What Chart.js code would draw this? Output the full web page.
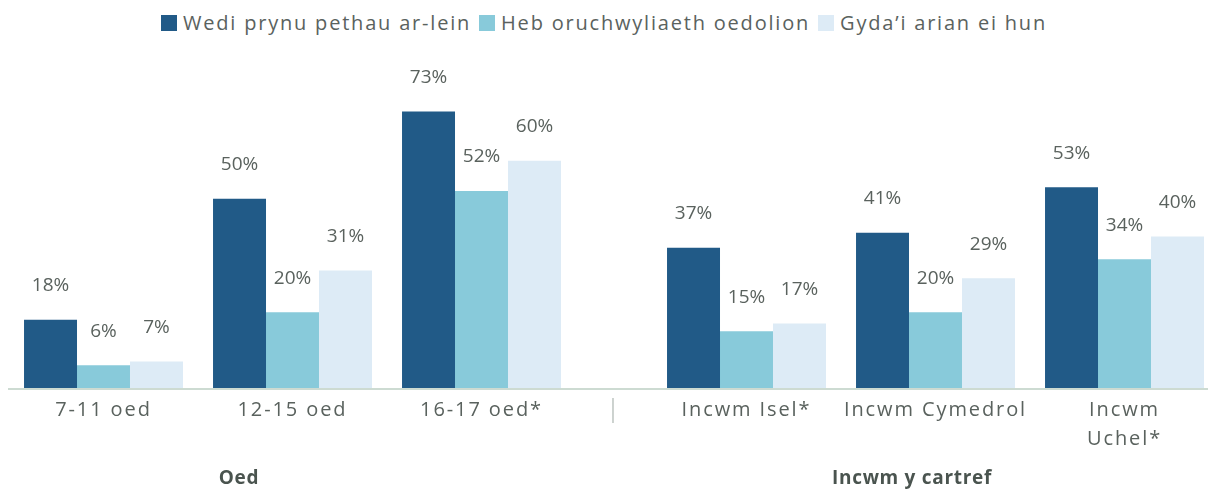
<!DOCTYPE html>
<html>
<head>
<meta charset="utf-8">
<script src="https://cdn.jsdelivr.net/npm/chart.js@4"></script>
<style>
  html, body { margin: 0; padding: 0; background: #fff; }
  body { width: 1208px; height: 495px; overflow: hidden; position: relative; font-family: "Open Sans", sans-serif; }
  #legend { position: absolute; top: 9px; left: 0; width: 1208px; display: flex; justify-content: center; gap: 8px; font-size: 20px; letter-spacing: 1.8px; color: #5a625e; }
  #legend span.item { display: flex; align-items: center; }
  #legend span.box { width: 16px; height: 16px; margin-right: 6px; display: inline-block; }
  .group { position: absolute; top: 464px; font-weight: bold; font-size: 19px; letter-spacing: 0.7px; color: #4a544f; transform: translateX(-50%); white-space: nowrap; }
  #left { position: absolute; left: 0; top: 0; }
  #right { position: absolute; left: 652px; top: 0; }
</style>
</head>
<body>
<div id="legend"></div>
<canvas id="left" width="652" height="495"></canvas>
<canvas id="right" width="567" height="495"></canvas>
<div class="group" style="left:239px">Oed</div>
<div class="group" style="left:912px">Incwm y cartref</div>
<script>
// categories (first three: Oed, last three: Incwm y cartref)
const categories = ['7-11 oed', '12-15 oed', '16-17 oed*', 'Incwm Isel*', 'Incwm Cymedrol', ['Incwm', 'Uchel*']];
const groupTitles = ['Oed', 'Incwm y cartref'];
const separator = '|';

// series values (%)
const seriesNames = ['Wedi prynu pethau ar-lein', 'Heb oruchwyliaeth oedolion', 'Gyda\u2019i arian ei hun'];
const boughtOnline = [18, 50, 73, 37, 41, 53];
const noSupervision = [6, 20, 52, 15, 20, 34];
const ownMoney = [7, 31, 60, 17, 29, 40];

const colors = ['#215a87', '#88cada', '#ddebf6'];
const textColor = '#5a625e';
const axisColor = '#cddbd2';
const fontFamily = '"Open Sans", sans-serif';

// legend (html)
const legendEl = document.getElementById('legend');
seriesNames.forEach((name, i) => {
    const item = document.createElement('span');
    item.className = 'item';
    item.innerHTML = '<span class="box" style="background:' + colors[i] + '"></span>' + name;
    legendEl.appendChild(item);
});

// wider tracking for the axis labels
const tracking = {
    id: 'tracking',
    beforeDraw(chart) {
        chart.ctx.letterSpacing = '1.9px';
    }
};

// data labels above bars
const valueLabels = {
    id: 'valueLabels',
    afterDatasetsDraw(chart) {
        const ctx = chart.ctx;
        ctx.save();
        ctx.letterSpacing = '0px';
        ctx.font = '19px ' + fontFamily;
        ctx.fillStyle = textColor;
        ctx.textAlign = 'center';
        ctx.textBaseline = 'middle';
        chart.data.datasets.forEach((ds, i) => {
            chart.getDatasetMeta(i).data.forEach((bar, j) => {
                ctx.fillText(ds.data[j] + '%', bar.x, bar.y - 34);
            });
        });
        ctx.restore();
    }
};

// baseline running across both halves
const baseline = {
    id: 'baseline',
    afterDraw(chart, args, opts) {
        const ctx = chart.ctx;
        const a = chart.chartArea;
        ctx.save();
        ctx.letterSpacing = '0px';
        ctx.strokeStyle = axisColor;
        ctx.lineWidth = 2;
        ctx.beginPath();
        ctx.moveTo(opts.extendLeft ? 0 : a.left - 1, a.bottom + 1);
        ctx.lineTo(opts.extendRight ? chart.width : a.right, a.bottom + 1);
        ctx.stroke();
        if (opts.separator) {
            ctx.font = '300 26px ' + fontFamily;
            ctx.fillStyle = '#aab3ae';
            ctx.textAlign = 'center';
            ctx.textBaseline = 'middle';
            ctx.fillText(opts.separator, opts.separatorX, a.bottom + 22);
        }
        ctx.restore();
    }
};

function makeChart(id, from, to, padding, baseOpts) {
    return new Chart(document.getElementById(id), {
        type: 'bar',
        data: {
            labels: categories.slice(from, to),
            datasets: [
                { label: seriesNames[0], data: boughtOnline.slice(from, to), backgroundColor: colors[0] },
                { label: seriesNames[1], data: noSupervision.slice(from, to), backgroundColor: colors[1] },
                { label: seriesNames[2], data: ownMoney.slice(from, to), backgroundColor: colors[2] }
            ]
        },
        options: {
            responsive: false,
            animation: false,
            layout: { padding: padding },
            categoryPercentage: 0.841,
            barPercentage: 1,
            plugins: {
                legend: { display: false },
                tooltip: { enabled: false },
                baseline: baseOpts
            },
            scales: {
                y: {
                    display: false,
                    min: 0,
                    max: 80
                },
                x: {
                    grid: { display: false, drawTicks: false },
                    border: { display: false },
                    ticks: {
                        color: textColor,
                        padding: 8,
                        maxRotation: 0,
                        autoSkip: false,
                        font: { family: fontFamily, size: 20, lineHeight: 1.45 }
                    },
                    afterFit: (scale) => { scale.height = 107; }
                }
            }
        },
        plugins: [tracking, valueLabels, baseline]
    });
}

makeChart('left', 0, 3, { left: 9, right: 76, top: 85, bottom: 0 },
    { extendRight: true, separator: separator, separatorX: 613 });
makeChart('right', 3, 6, { left: 0, right: 0, top: 85, bottom: 0 },
    { extendLeft: true });
</script>
</body>
</html>
